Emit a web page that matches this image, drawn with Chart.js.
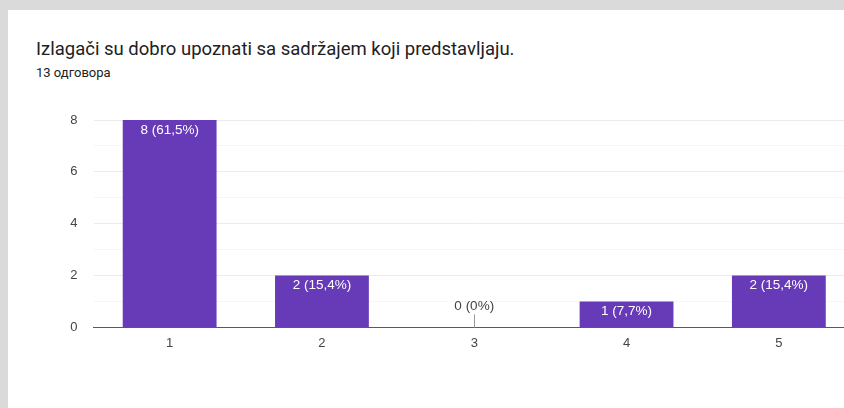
<!DOCTYPE html>
<html>
<head>
<meta charset="utf-8">
<script src="https://cdn.jsdelivr.net/npm/chart.js@4/dist/chart.umd.min.js"></script>
<style>
  html, body { margin:0; padding:0; width:844px; height:408px; overflow:hidden; background:#dadada; }
  #card { position:absolute; left:8px; top:10px; width:900px; height:500px; background:#fff; }
  #title { position:absolute; left:36px; top:38px; font-family:Roboto, Arial, sans-serif; font-size:18.5px; color:#202124; white-space:nowrap; }
  #sub { position:absolute; left:36px; top:65px; font-family:Roboto, Arial, sans-serif; font-size:13px; color:#202124; white-space:nowrap; }
  #wrap { position:absolute; left:0; top:0; width:870px; height:408px; }
</style>
</head>
<body>
<div id="card"></div>
<div id="title">Izlagači su dobro upoznati sa sadržajem koji predstavljaju.</div>
<div id="sub">13 одговора</div>
<div id="wrap"><canvas id="c"></canvas></div>
<script>
const categories = ["1", "2", "3", "4", "5"];
const counts = [8, 2, 0, 1, 2];
const percentLabels = ["61,5%", "15,4%", "0%", "7,7%", "15,4%"];
const yTicks = [0, 2, 4, 6, 8];

const FONT = '"Liberation Sans", Arial, sans-serif';

const barLabels = {
  id: 'barLabels',
  afterDatasetsDraw(chart) {
    const ctx = chart.ctx;
    const meta = chart.getDatasetMeta(0);
    ctx.save();
    ctx.font = '13.5px ' + FONT;
    ctx.textAlign = 'center';
    ctx.textBaseline = 'middle';
    meta.data.forEach((bar, i) => {
      const txt = counts[i] + ' (' + percentLabels[i] + ')';
      if (counts[i] === 0) {
        ctx.strokeStyle = '#999';
        ctx.lineWidth = 1;
        ctx.beginPath();
        ctx.moveTo(Math.round(bar.x) + 0.5, bar.base - 13);
        ctx.lineTo(Math.round(bar.x) + 0.5, bar.base);
        ctx.stroke();
        ctx.fillStyle = '#444';
        ctx.fillText(txt, bar.x, bar.base - 21);
      } else {
        ctx.fillStyle = '#fff';
        ctx.fillText(txt, bar.x, bar.y + 10);
      }
    });
    ctx.restore();
  }
};

new Chart(document.getElementById('c'), {
  type: 'bar',
  data: {
    labels: categories,
    datasets: [{
      data: counts,
      backgroundColor: '#673ab7',
      barPercentage: 1,
      categoryPercentage: 0.616
    }]
  },
  options: {
    responsive: true,
    maintainAspectRatio: false,
    animation: false,
    layout: { padding: { top: 120, right: 15, left: 0, bottom: 49 } },
    plugins: { legend: { display: false }, tooltip: { enabled: false } },
    scales: {
      x: {
        grid: { display: false, drawTicks: false },
        border: { display: true, color: '#5a5a5a', width: 1 },
        ticks: { color: '#444', font: { family: FONT, size: 13 }, padding: 8 }
      },
      y: {
        min: 0, max: 8,
        afterFit(scale) { scale.width = 93.5; },
        grid: {
          drawTicks: false,
          color: (c) => (c.tick && c.tick.value % 2 === 0) ? '#ebebeb' : '#f6f6f6'
        },
        border: { display: false },
        ticks: {
          stepSize: 1,
          padding: 16,
          color: '#444',
          font: { family: FONT, size: 13 },
          callback: (v) => yTicks.includes(v) ? String(v) : ''
        }
      }
    }
  },
  plugins: [barLabels]
});
</script>
</body>
</html>
